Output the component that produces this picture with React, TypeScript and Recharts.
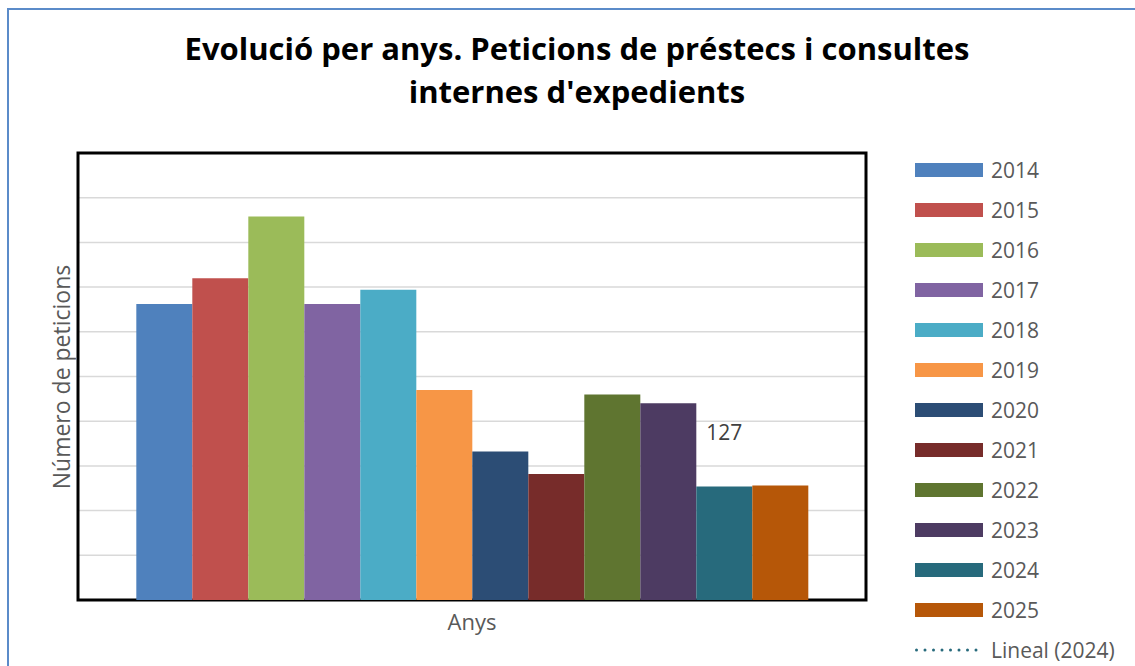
import React from "react";
import { BarChart, Bar, XAxis, YAxis, CartesianGrid, ReferenceArea, LabelList } from "recharts";

const categories = ["Anys"];
const years = ["2014", "2015", "2016", "2017", "2018", "2019", "2020", "2021", "2022", "2023", "2024", "2025"];
const values = [331, 360, 429, 331, 347, 235, 166, 141, 230, 220, 127, 128];
const colors = ["#4F81BD", "#C0504D", "#9BBB59", "#8064A2", "#4BACC6", "#F79646", "#2C4D75", "#772C2A", "#5F7530", "#4D3B62", "#276A7C", "#B65708"];
const yTicks = [0, 50, 100, 150, 200, 250, 300, 350, 400, 450, 500];
const labelledYear = "2024";
const trendLabel = "Lineal (2024)";

const data = categories.map((c) => {
  const row: Record<string, string | number> = { name: c };
  years.forEach((y, i) => {
    row["y" + y] = values[i];
  });
  return row;
});

const FONT = "'Open Sans', sans-serif";

export default function App() {
  return (
    <div style={{ position: "absolute", left: 0, top: 0, width: 1135, height: 666, overflow: "hidden", background: "#fff", fontFamily: FONT }}>
      <div style={{ position: "absolute", left: 7, top: 8, width: 1140, height: 700, border: "2px solid #5B8BC9", boxSizing: "border-box" }} />
      <div style={{ position: "absolute", left: 0, top: 27, width: 1154, textAlign: "center", fontSize: 31, fontWeight: 700, lineHeight: "43px", color: "#000", letterSpacing: 0 }}>
        Evolució per anys. Peticions de préstecs i consultes
        <br />
        internes d'expedients
      </div>
      <div style={{ position: "absolute", left: 1, top: 0 }}>
        <BarChart width={1135} height={666} data={data} margin={{ top: 153, left: 77, right: 270, bottom: 66 }} barCategoryGap="7.4%" barGap={0}>
          <CartesianGrid horizontal vertical={false} stroke="#D9D9D9" strokeWidth={1.5} />
          <XAxis dataKey="name" hide />
          <YAxis hide domain={[0, 500]} ticks={yTicks} />
          {years.map((y, i) => (
            <Bar key={y} dataKey={"y" + y} name={y} fill={colors[i]} isAnimationActive={false}>
              {y === labelledYear ? (
                <LabelList dataKey={"y" + y} position="top" offset={46} fill="#404040" fontSize={21} fontFamily={FONT} />
              ) : null}
            </Bar>
          ))}
          <ReferenceArea y1={0} y2={500} fill="none" stroke="#000" strokeWidth={3} ifOverflow="visible" />
        </BarChart>
      </div>
      <div style={{ position: "absolute", left: 61, top: 377, width: 0, height: 0 }}>
        <div style={{ position: "absolute", left: -150, top: -15, width: 300, height: 30, lineHeight: "30px", textAlign: "center", transform: "rotate(-90deg)", fontSize: 23, color: "#595959", whiteSpace: "nowrap" }}>
          Número de peticions
        </div>
      </div>
      <div style={{ position: "absolute", left: 372, top: 606, width: 200, textAlign: "center", fontSize: 22, lineHeight: "30px", color: "#595959" }}>
        Anys
      </div>
      <div style={{ position: "absolute", left: 915, top: 150 }}>
        {years.map((y, i) => (
          <div key={y} style={{ display: "flex", alignItems: "center", height: 40 }}>
            <div style={{ width: 68, height: 14, background: colors[i] }} />
            <div style={{ marginLeft: 8, fontSize: 21, color: "#595959", lineHeight: "40px" }}>{y}</div>
          </div>
        ))}
        <div style={{ display: "flex", alignItems: "center", height: 40 }}>
          <svg width={68} height={6}>
            <line x1={1.5} y1={3} x2={67} y2={3} stroke="#276A7C" strokeWidth={3} strokeDasharray="0 8.5" strokeLinecap="round" />
          </svg>
          <div style={{ marginLeft: 8, fontSize: 21, color: "#595959", lineHeight: "40px" }}>{trendLabel}</div>
        </div>
      </div>
    </div>
  );
}
